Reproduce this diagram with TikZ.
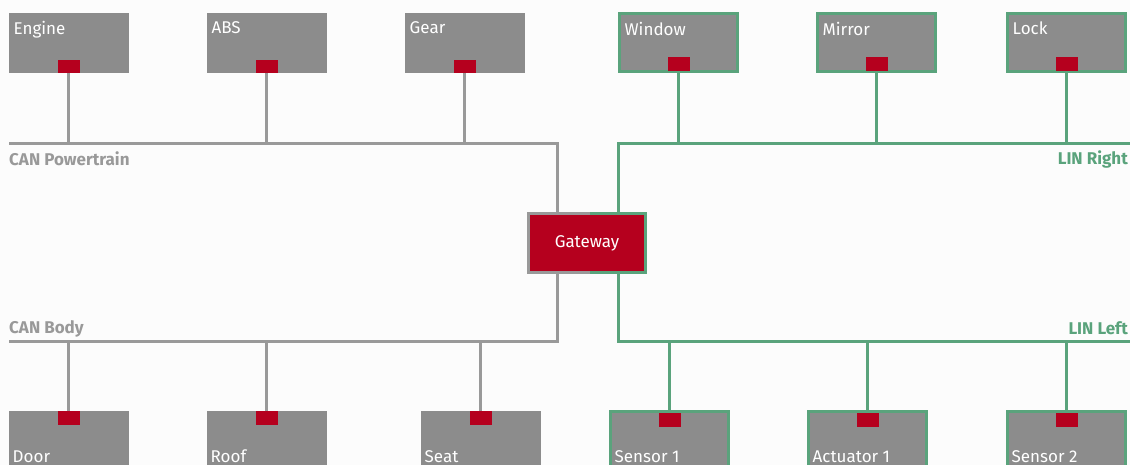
\documentclass[tikz,border=0pt]{standalone}
\usepackage{fontspec}
\setmainfont{Fira Sans}
\usetikzlibrary{positioning}
\definecolor{bgwhite}{HTML}{FCFCFC}
\definecolor{ecugrey}{HTML}{8C8C8C}
\definecolor{busgrey}{HTML}{999999}
\definecolor{lingreen}{HTML}{5AA37C}
\definecolor{portred}{HTML}{B5001E}
\tikzset{
	ecu/.style={fill=ecugrey,inner sep=0,outer sep=0,minimum width=120pt,minimum height=60pt},
	linecu/.style={ecu,draw=lingreen,line width=3pt,minimum width=118pt,minimum height=58pt},
	port/.style={fill=portred,inner sep=0,outer sep=0,minimum width=22pt,minimum height=13.5pt},
	ecutext/.style={text=white,inner sep=0,font=\fontsize{17}{20}\selectfont},
	toplbl/.style={label={[ecutext,anchor=north west,xshift=5pt,yshift=-8pt]north west:#1}},
	botlbl/.style={label={[ecutext,anchor=base west,xshift=4pt,yshift=-51pt]north west:#1}},
	can/.style={draw=busgrey,line width=3pt},
	lin/.style={draw=lingreen,line width=3pt},
	busname/.style={inner sep=0,font=\bfseries\fontsize{17}{20}\selectfont}
}
\begin{document}
\begin{tikzpicture}[x=1pt,y=-1pt]
	\fill[bgwhite] (0,0) rectangle (1130,465);
	\useasboundingbox (0,0) rectangle (1130,465);
	\node[ecu,toplbl=Engine] (engine) at (68.5,43.5) {};
	\node[ecu,toplbl=ABS] (abs) at (266.5,43.5) {};
	\node[ecu,toplbl=Gear] (gear) at (464.5,43.5) {};
	\node[linecu,toplbl=Window] (window) at (678.5,43) {};
	\node[linecu,toplbl=Mirror] (mirror) at (876.5,43) {};
	\node[linecu,toplbl=Lock] (lock) at (1066.5,43) {};
	\node[ecu,botlbl=Door] (door) at (68.5,441) {};
	\node[ecu,botlbl=Roof] (roof) at (266.5,441) {};
	\node[ecu,botlbl=Seat] (seat) at (480.5,441) {};
	\node[linecu,botlbl=Sensor 1] (sensor1) at (669.5,440.5) {};
	\node[linecu,botlbl=Actuator 1] (actuator1) at (867.5,440.5) {};
	\node[linecu,botlbl=Sensor 2] (sensor2) at (1066.5,440.5) {};
	\node[port,above=0pt of engine.south] (engine-p) {};
	\node[port,above=0pt of abs.south] (abs-p) {};
	\node[port,above=0pt of gear.south] (gear-p) {};
	\node[port,above=1pt of window.south] (window-p) {};
	\node[port,above=1pt of mirror.south] (mirror-p) {};
	\node[port,above=1pt of lock.south] (lock-p) {};
	\node[port,below=0pt of door.north] (door-p) {};
	\node[port,below=0pt of roof.north] (roof-p) {};
	\node[port,below=0pt of seat.north] (seat-p) {};
	\node[port,below=1.5pt of sensor1.north] (sensor1-p) {};
	\node[port,below=1.5pt of actuator1.north] (actuator1-p) {};
	\node[port,below=1.5pt of sensor2.north] (sensor2-p) {};
	\node[fill=portred,inner sep=0,minimum width=117pt,minimum height=58pt,text=white,font=\fontsize{17}{20}\selectfont] (gw) at (587,243) {Gateway};
	\coordinate (pt-w) at (9,144);
	\coordinate (pt-e) at (557,144);
	\coordinate (body-w) at (9,341);
	\coordinate (body-e) at (557,341);
	\coordinate (right-w) at (618,144);
	\coordinate (right-e) at (1130,144);
	\coordinate (left-w) at (618,341);
	\coordinate (left-e) at (1130,341);
	\draw[can] (pt-w) -- (pt-e) -- (pt-e |- gw.north);
	\draw[can] (body-w) -- (body-e) -- (body-e |- gw.south);
	\draw[lin] (right-e) -- (right-w) -- (right-w |- gw.north);
	\draw[lin] (left-e) -- (left-w) -- (left-w |- gw.south);
	\draw[can] ([xshift=3pt]gw.north) -- (gw.north west) -- (gw.south west) -- ([xshift=3pt]gw.south);
	\draw[lin] ([xshift=3pt]gw.north) -- (gw.north east) -- (gw.south east) -- ([xshift=3pt]gw.south);
	\draw[can] (engine-p) -- (engine-p |- pt-w);
	\draw[can] (abs-p) -- (abs-p |- pt-w);
	\draw[can] (gear-p) -- (gear-p |- pt-w);
	\draw[lin] (window-p) -- (window-p |- right-w);
	\draw[lin] (mirror-p) -- (mirror-p |- right-w);
	\draw[lin] (lock-p) -- (lock-p |- right-w);
	\draw[can] (door-p) -- (door-p |- body-w);
	\draw[can] (roof-p) -- (roof-p |- body-w);
	\draw[can] (seat-p) -- (seat-p |- body-w);
	\draw[lin] (sensor1-p) -- (sensor1-p |- left-w);
	\draw[lin] (actuator1-p) -- (actuator1-p |- left-w);
	\draw[lin] (sensor2-p) -- (sensor2-p |- left-w);
	\node[busname,text=busgrey,anchor=base west] (pt-name) at (9,166) {CAN Powertrain};
	\node[busname,text=busgrey,anchor=base west] (body-name) at (9,333) {CAN Body};
	\node[busname,text=lingreen,anchor=base east] (right-name) at (1128,165) {LIN Right};
	\node[busname,text=lingreen,anchor=base east] (left-name) at (1128,334) {LIN Left};
\end{tikzpicture}
\end{document}
